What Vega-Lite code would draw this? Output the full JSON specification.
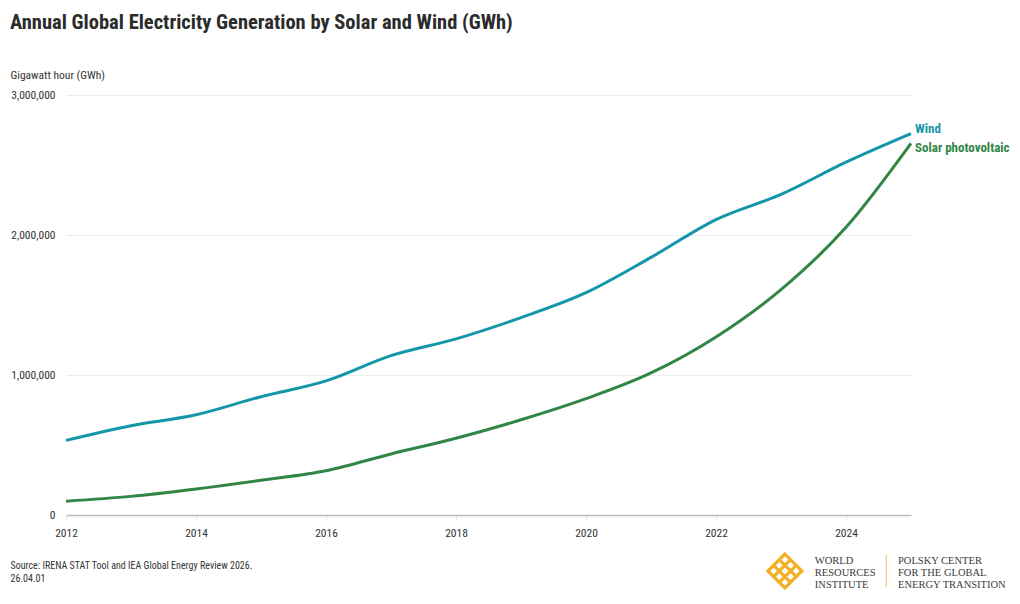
{
  "$schema": "https://vega.github.io/schema/vega-lite/v6.json",
  "width": 845,
  "height": 420,
  "autosize": {"type": "none"},
  "padding": {"left": 66, "top": 95, "right": 109, "bottom": 89},
  "background": "white",
  "title": {
    "text": "Annual Global Electricity Generation by Solar and Wind (GWh)",
    "anchor": "start",
    "frame": "group",
    "dx": -56,
    "offset": 36,
    "fontSize": 20.5,
    "fontWeight": "bold",
    "color": "#2b2b2b"
  },
  "config": {
    "font": "Roboto Condensed, Liberation Sans Narrow, Roboto, sans-serif",
    "view": {"stroke": null}
  },
  "datasets": {
    "generation": [
      {"year": 2012, "series": "Wind", "value": 533000},
      {"year": 2013, "series": "Wind", "value": 638000},
      {"year": 2014, "series": "Wind", "value": 716000},
      {"year": 2015, "series": "Wind", "value": 845000},
      {"year": 2016, "series": "Wind", "value": 958000},
      {"year": 2017, "series": "Wind", "value": 1138000},
      {"year": 2018, "series": "Wind", "value": 1258000},
      {"year": 2019, "series": "Wind", "value": 1410000},
      {"year": 2020, "series": "Wind", "value": 1588000},
      {"year": 2021, "series": "Wind", "value": 1840000},
      {"year": 2022, "series": "Wind", "value": 2110000},
      {"year": 2023, "series": "Wind", "value": 2290000},
      {"year": 2024, "series": "Wind", "value": 2520000},
      {"year": 2025, "series": "Wind", "value": 2724000},
      {"year": 2012, "series": "Solar photovoltaic", "value": 99000},
      {"year": 2013, "series": "Solar photovoltaic", "value": 133000},
      {"year": 2014, "series": "Solar photovoltaic", "value": 186000},
      {"year": 2015, "series": "Solar photovoltaic", "value": 248000},
      {"year": 2016, "series": "Solar photovoltaic", "value": 316000},
      {"year": 2017, "series": "Solar photovoltaic", "value": 436000},
      {"year": 2018, "series": "Solar photovoltaic", "value": 548000},
      {"year": 2019, "series": "Solar photovoltaic", "value": 680000},
      {"year": 2020, "series": "Solar photovoltaic", "value": 831000},
      {"year": 2021, "series": "Solar photovoltaic", "value": 1015000},
      {"year": 2022, "series": "Solar photovoltaic", "value": 1272000},
      {"year": 2023, "series": "Solar photovoltaic", "value": 1610000},
      {"year": 2024, "series": "Solar photovoltaic", "value": 2055000},
      {"year": 2025, "series": "Solar photovoltaic", "value": 2655000}
    ],
    "logo": [
      {"name": "World Resources Institute / Polsky Center"}
    ]
  },
  "layer": [
    {
      "data": {"name": "generation"},
      "mark": {"type": "line", "interpolate": "monotone", "strokeWidth": 3},
      "encoding": {
        "x": {
          "field": "year",
          "type": "quantitative",
          "scale": {"domain": [2012, 2025], "nice": false, "zero": false},
          "axis": {
            "values": [2012, 2014, 2016, 2018, 2020, 2022, 2024],
            "format": "d",
            "labelFlush": false,
            "grid": false,
            "domainColor": "#bdbdbd",
            "domainWidth": 1.5,
            "tickColor": "#dddddd",
            "tickSize": 4,
            "labelFontSize": 11.5,
            "labelColor": "#333333",
            "labelPadding": 8,
            "title": ["Source: IRENA STAT Tool and IEA Global Energy Review 2026.", "26.04.01"],
            "titleAnchor": "start",
            "titleAlign": "left",
            "titleBaseline": "top",
            "titleX": -56,
            "titleY": 45,
            "titleFontSize": 10,
            "titleFontWeight": "normal",
            "titleColor": "#333333",
            "titleLineHeight": 13
          }
        },
        "y": {
          "field": "value",
          "type": "quantitative",
          "scale": {"domain": [0, 3000000], "nice": false},
          "axis": {
            "values": [0, 1000000, 2000000, 3000000],
            "format": ",",
            "labelExpr": "format(datum.value, ',')",
            "domain": false,
            "ticks": false,
            "gridColor": "#ececec",
            "labelFontSize": 11.5,
            "labelColor": "#333333",
            "labelPadding": 11,
            "title": "Gigawatt hour (GWh)",
            "titleAngle": 0,
            "titleAlign": "left",
            "titleBaseline": "middle",
            "titleX": -56,
            "titleY": -20,
            "titleFontSize": 11.5,
            "titleFontWeight": "normal",
            "titleColor": "#333333"
          }
        },
        "color": {
          "field": "series",
          "type": "nominal",
          "scale": {"domain": ["Wind", "Solar photovoltaic"], "range": ["#1496a9", "#318646"]},
          "legend": null
        }
      }
    },
    {
      "data": {"name": "generation"},
      "transform": [{"filter": "datum.year == 2025 && datum.series == 'Wind'"}],
      "mark": {"type": "text", "align": "left", "baseline": "middle", "dx": 4, "dy": -5, "fontSize": 13, "fontWeight": "bold"},
      "encoding": {
        "x": {"field": "year", "type": "quantitative"},
        "y": {"field": "value", "type": "quantitative"},
        "color": {"field": "series", "type": "nominal", "legend": null},
        "text": {"field": "series"}
      }
    },
    {
      "data": {"name": "generation"},
      "transform": [{"filter": "datum.year == 2025 && datum.series == 'Solar photovoltaic'"}],
      "mark": {"type": "text", "align": "left", "baseline": "middle", "dx": 4, "dy": 5, "fontSize": 13, "fontWeight": "bold"},
      "encoding": {
        "x": {"field": "year", "type": "quantitative"},
        "y": {"field": "value", "type": "quantitative"},
        "color": {"field": "series", "type": "nominal", "legend": null},
        "text": {"field": "series"}
      }
    },
    {
      "data": {"name": "logo"},
      "mark": {
        "type": "point",
        "shape": "M0,-1L1,0L0,1L-1,0Z M0.333,-0.667L-0.667,0.333 M0.667,-0.333L-0.333,0.667 M-0.667,-0.333L0.333,0.667 M-0.333,-0.667L0.667,0.333",
        "filled": false,
        "size": 1150,
        "strokeWidth": 3.2,
        "color": "#f2b124",
        "opacity": 1,
        "x": {"expr": "scale('x', 2023.06)"},
        "y": {"expr": "scale('y', -400000)"}
      },
      "encoding": {}
    },
    {
      "data": {"name": "logo"},
      "mark": {
        "type": "text",
        "align": "left",
        "baseline": "top",
        "font": "Liberation Serif",
        "fontSize": 10.5,
        "lineHeight": 12,
        "color": "#3a3a3a",
        "text": ["WORLD", "RESOURCES", "INSTITUTE"],
        "x": {"expr": "scale('x', 2023.52)"},
        "y": {"expr": "scale('y', -290000)"}
      },
      "encoding": {}
    },
    {
      "data": {"name": "logo"},
      "mark": {
        "type": "point",
        "shape": "M0,-1L0,1",
        "filled": false,
        "size": 1050,
        "strokeWidth": 1.2,
        "color": "#eccb7a",
        "opacity": 1,
        "x": {"expr": "scale('x', 2024.62)"},
        "y": {"expr": "scale('y', -400000)"}
      },
      "encoding": {}
    },
    {
      "data": {"name": "logo"},
      "mark": {
        "type": "text",
        "align": "left",
        "baseline": "top",
        "font": "Liberation Serif",
        "fontSize": 10.5,
        "lineHeight": 12,
        "color": "#3a3a3a",
        "text": ["POLSKY CENTER", "FOR THE GLOBAL", "ENERGY TRANSITION"],
        "x": {"expr": "scale('x', 2024.8)"},
        "y": {"expr": "scale('y', -290000)"}
      },
      "encoding": {}
    }
  ]
}
